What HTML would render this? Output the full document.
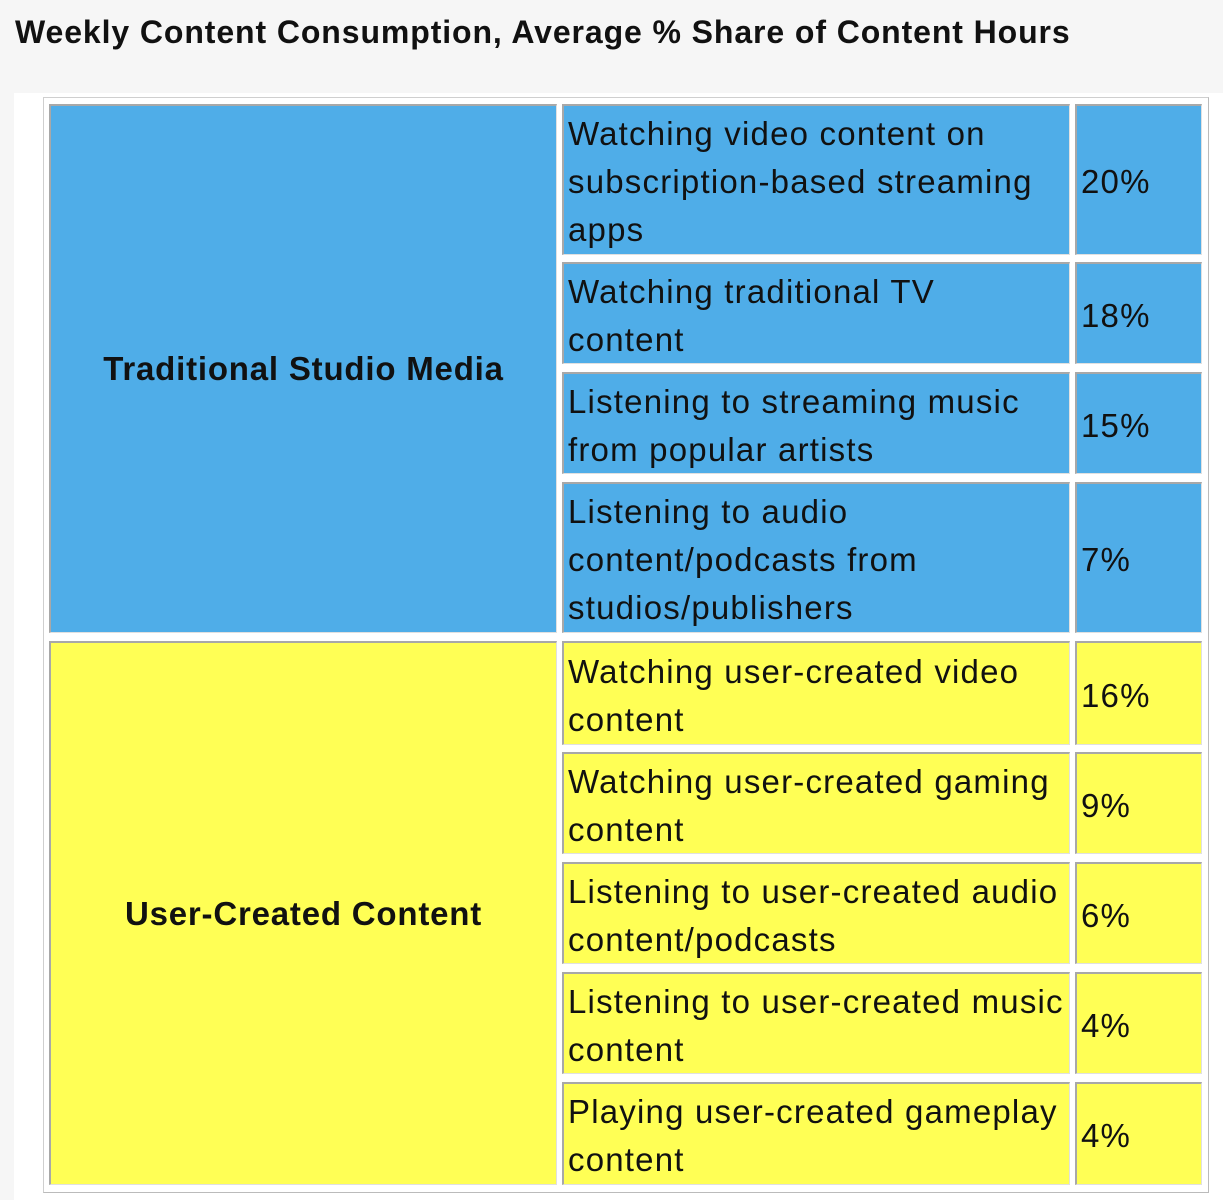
<!DOCTYPE html>
<html><head><style>
body{margin:0;width:1223px;height:1200px;background:#f6f6f6;position:relative;overflow:hidden;font-family:"Liberation Sans",sans-serif}
.t{position:absolute;left:15px;top:14px;font-size:32px;font-weight:bold;color:#111;letter-spacing:0.9px}
.panel{position:absolute;left:14px;top:93px;width:1209px;height:1107px;background:#fff}
.tbl{position:absolute;left:43px;top:97px;width:1164px;height:1094px;border:1px solid #cfcfcf;border-right-color:#bbb;border-bottom-color:#bbb}
.c{position:absolute;box-sizing:border-box;border:1px solid #e0e0e0;border-top:2px solid #a8a8a8;border-left:2px solid #a8a8a8;font-size:33px;line-height:48px;color:#111;white-space:nowrap;padding-left:4px;padding-top:4px;display:flex;align-items:center;letter-spacing:1.2px}
.b{background:#4fade8}.y{background:#ffff55}
.g{justify-content:center;font-weight:bold;padding:0;letter-spacing:0.8px}
</style></head><body>
<div class="t">Weekly Content Consumption, Average % Share of Content Hours</div>
<div class="panel"></div>
<div class="tbl"></div>
<div class="c b g" style="left:49px;top:104px;width:508px;height:529px">Traditional Studio Media</div>
<div class="c y g" style="left:49px;top:641px;width:508px;height:544px">User-Created Content</div>

<div class="c b" style="left:562px;top:104px;width:508px;height:151px">Watching video content on<br>subscription-based streaming<br>apps</div>
<div class="c b" style="left:1075px;top:104px;width:127px;height:151px">20%</div>
<div class="c b" style="left:562px;top:262px;width:508px;height:102px">Watching traditional TV<br>content</div>
<div class="c b" style="left:1075px;top:262px;width:127px;height:102px">18%</div>
<div class="c b" style="left:562px;top:372px;width:508px;height:102px">Listening to streaming music<br>from popular artists</div>
<div class="c b" style="left:1075px;top:372px;width:127px;height:102px">15%</div>
<div class="c b" style="left:562px;top:482px;width:508px;height:151px">Listening to audio<br>content/podcasts from<br>studios/publishers</div>
<div class="c b" style="left:1075px;top:482px;width:127px;height:151px">7%</div>

<div class="c y" style="left:562px;top:641px;width:508px;height:104px">Watching user-created video<br>content</div>
<div class="c y" style="left:1075px;top:641px;width:127px;height:104px">16%</div>
<div class="c y" style="left:562px;top:752px;width:508px;height:102px">Watching user-created gaming<br>content</div>
<div class="c y" style="left:1075px;top:752px;width:127px;height:102px">9%</div>
<div class="c y" style="left:562px;top:862px;width:508px;height:102px">Listening to user-created audio<br>content/podcasts</div>
<div class="c y" style="left:1075px;top:862px;width:127px;height:102px">6%</div>
<div class="c y" style="left:562px;top:972px;width:508px;height:102px">Listening to user-created music<br>content</div>
<div class="c y" style="left:1075px;top:972px;width:127px;height:102px">4%</div>
<div class="c y" style="left:562px;top:1082px;width:508px;height:103px">Playing user-created gameplay<br>content</div>
<div class="c y" style="left:1075px;top:1082px;width:127px;height:103px">4%</div>
</body></html>
